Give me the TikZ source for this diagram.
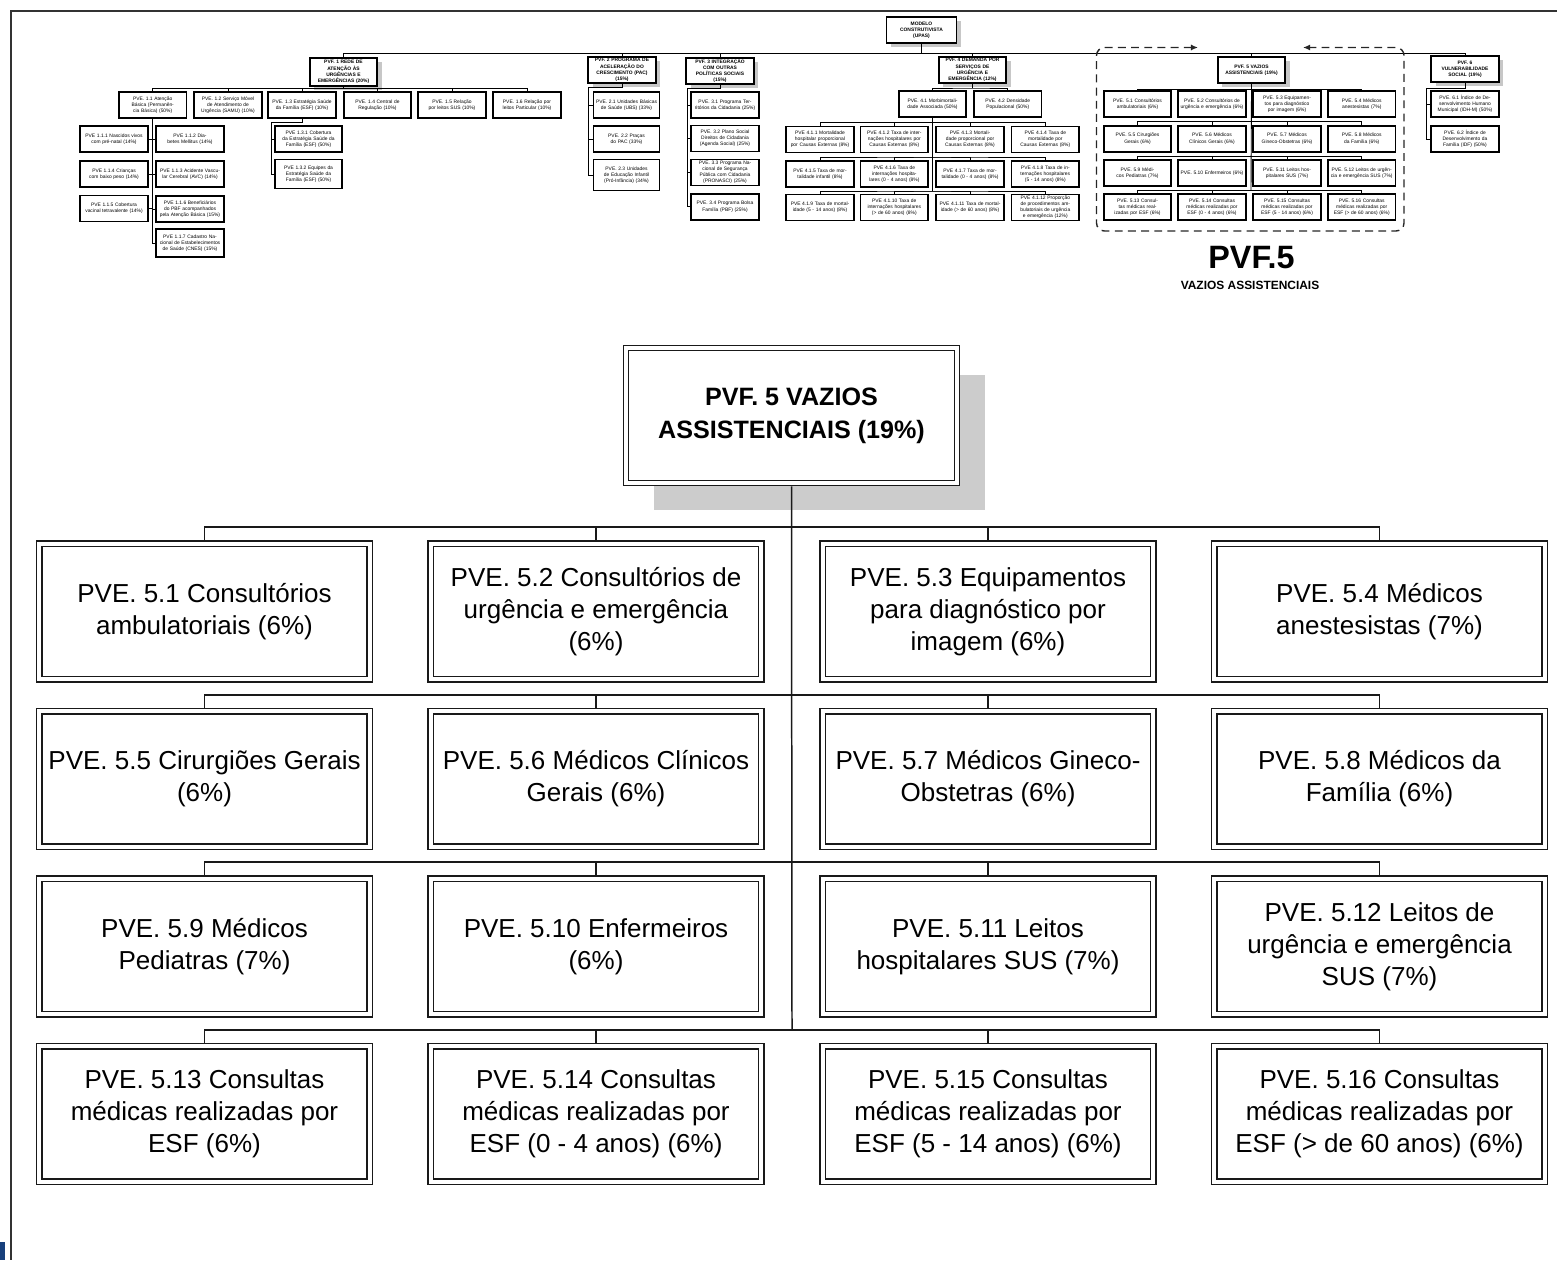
\documentclass[tikz,border=0pt]{standalone}
\usepackage{fontspec}
\setmainfont{Liberation Sans}
\usetikzlibrary{arrows.meta,shadows}
\definecolor{barblue}{RGB}{24,64,124}

\begin{document}
\begin{tikzpicture}[x=0.02cm,y=-0.02cm]
  \tikzset{ big/.style={draw=black!90, line width=0.8pt, double=white, double distance=2.3pt,
      fill=white, inner sep=0pt, minimum width=6.61cm, minimum height=2.71cm,
      align=center, font=\fontsize{14.8}{18.1}\selectfont},
    bigtop/.style={big, font=\bfseries\fontsize{14.3}{18.6}\selectfont,
      minimum width=6.62cm, minimum height=2.7cm,
      drop shadow={shadow xshift=15.9pt, shadow yshift=-15.6pt, fill=black!20, opacity=1}},
    pve/.style={draw, line width=1pt, fill=white, inner sep=0pt,
      minimum width=1.35cm, minimum height=0.52cm,
      text width=1.26cm, align=center, font=\fontsize{2.8}{3.5}\selectfont},
    pvf/.style={pve, font=\bfseries\fontsize{2.8}{3.5}\selectfont,
      drop shadow={shadow xshift=2.5pt, shadow yshift=-2.5pt, fill=black!22, opacity=1}},
    link/.style={line width=0.85pt, draw=black!90, shorten <=1.5pt, shorten >=1.5pt},
    twig/.style={line width=0.5pt},
  }
  \useasboundingbox (0,0) rectangle (1557,1260);

  % page frame
  \draw[line width=1.2pt, black!80] (1557,11) -- (11,11) -- (11,1260);
  \fill[barblue] (0,1242) rectangle (5,1260);

  % small overview tree
  \node[pvf, minimum width=1.4cm, text width=1.36cm] (m) at (921.5,30) {MODELO\\CONSTRUTIVISTA\\(UPAS)};

  \node[pvf, minimum height=0.56cm] (f1) at (343.5,72) {PVF. 1 REDE DE\\ATENÇÃO ÀS\\URGÊNCIAS E\\EMERGÊNCIAS (20\%)};
  \node[pvf] (f2) at (622,70) {PVF. 2 PROGRAMA DE\\ACELERAÇÃO DO\\CRESCIMENTO (PAC)\\(15\%)};
  \node[pvf] (f3) at (720,71) {PVF. 3 INTEGRAÇÃO\\COM OUTRAS\\POLÍTICAS SOCIAIS\\(15\%)};
  \node[pvf] (f4) at (972.5,70) {PVF. 4 DEMANDA POR\\SERVIÇOS DE\\URGÊNCIA E\\EMERGÊNCIA (12\%)};
  \node[pvf] (f5) at (1251.5,70) {PVF. 5 VAZIOS\\ASSISTENCIAIS (19\%)};
  \node[pvf] (f6) at (1465,69) {PVF. 6\\VULNERABILIDADE\\SOCIAL (19\%)};

  \node[pve] (e11) at (152.7,105) {PVE. 1.1 Atenção Básica (Permanência Básica) (50\%)};
  \node[pve] (e12) at (228,105) {PVE. 1.2 Serviço Móvel de Atendimento de Urgência (SAMU) (10\%)};
  \node[pve] (e13) at (302,105) {PVE. 1.3 Estratégia Saúde da Família (ESF) (10\%)};
  \node[pve] (e14) at (377.5,105) {PVE. 1.4 Central de Regulação (10\%)};
  \node[pve] (e15) at (452,105) {PVE. 1.5 Relação por leitos SUS (10\%)};
  \node[pve] (e16) at (527,105) {PVE. 1.6 Relação por leitos Particular (10\%)};

  \node[pve] (e111) at (114,139) {PVE 1.1.1 Nascidos vivos com pré-natal (14\%)};
  \node[pve] (e112) at (190,139) {PVE 1.1.2 Diabetes Mellitus (14\%)};
  \node[pve] (e114) at (114,174) {PVE 1.1.4 Crianças com baixo peso (14\%)};
  \node[pve] (e113) at (190,174) {PVE 1.1.3 Acidente Vascular Cerebral (AVC) (14\%)};
  \node[pve] (e115) at (114,208.5) {PVE 1.1.5 Cobertura vacinal tetravalente (14\%)};
  \node[pve] (e116) at (190,209) {PVE 1.1.6 Beneficiários do PBF acompanhados pela Atenção Básica (15\%)};
  \node[pve, minimum height=0.56cm] (e117) at (190,243) {PVE 1.1.7 Cadastro Nacional de Estabelecimentos de Saúde (CNES) (15\%)};

  \node[pve] (e131) at (308.5,139) {PVE 1.3.1 Cobertura da Estratégia Saúde da Família (ESF) (50\%)};
  \node[pve, minimum height=0.58cm] (e132) at (308.5,174) {PVE 1.3.2 Equipes da Estratégia Saúde da Família (ESF) (50\%)};

  \node[pve, minimum width=1.32cm] (e21) at (626.5,105) {PVE. 2.1 Unidades Básicas de Saúde (UBS) (33\%)};
  \node[pve, minimum width=1.32cm] (e22) at (626.5,139) {PVE. 2.2 Praças do PAC (33\%)};
  \node[pve, minimum width=1.32cm, minimum height=0.62cm] (e23) at (626.5,175) {PVE. 2.3 Unidades de Educação Infantil (Pró-Infância) (34\%)};

  \node[pve] (e31) at (725,105) {PVE. 3.1 Programa Territórios da Cidadania (25\%)};
  \node[pve] (e32) at (725,138.5) {PVE. 3.2 Plano Social Direitos de Cidadania (Agenda Social) (25\%)};
  \node[pve] (e33) at (725,172.5) {PVE. 3.3 Programa Nacional de Segurança Pública com Cidadania (PRONASCI) (25\%)};
  \node[pve] (e34) at (725,206.7) {PVE. 3.4 Programa Bolsa Família (PBF) (25\%)};

  \node[pve] (e41) at (932.5,104) {PVE. 4.1 Morbimortalidade Associada (50\%)};
  \node[pve] (e42) at (1007.7,104) {PVE. 4.2 Densidade Populacional (50\%)};

  \node[pve] (e411) at (820,139.5) {PVE 4.1.1 Mortalidade hospitalar proporcional por Causas Externas (8\%)};
  \node[pve] (e412) at (894.3,139.5) {PVE 4.1.2 Taxa de internações hospitalares por Causas Externas (8\%)};
  \node[pve] (e413) at (970,139.5) {PVE 4.1.3 Mortalidade proporcional por Causas Externas (8\%)};
  \node[pve] (e414) at (1045.3,139.5) {PVE 4.1.4 Taxa de mortalidade por Causas Externas (8\%)};
  \node[pve] (e415) at (820,174) {PVE 4.1.5 Taxa de mortalidade infantil (8\%)};
  \node[pve] (e416) at (894.3,174) {PVE 4.1.6 Taxa de internações hospitalares (0 - 4 anos) (8\%)};
  \node[pve] (e417) at (970,174) {PVE 4.1.7 Taxa de mortalidade (0 - 4 anos) (8\%)};
  \node[pve] (e418) at (1045.3,174) {PVE 4.1.8 Taxa de internações hospitalares (5 - 14 anos) (8\%)};
  \node[pve] (e419) at (820,207.5) {PVE 4.1.9 Taxa de mortalidade (5 - 14 anos) (8\%)};
  \node[pve] (e4110) at (894.3,207.5) {PVE 4.1.10 Taxa de internações hospitalares (> de 60 anos) (8\%)};
  \node[pve] (e4111) at (970,207.5) {PVE 4.1.11 Taxa de mortalidade (> de 60 anos) (8\%)};
  \node[pve] (e4112) at (1045.3,207.5) {PVE 4.1.12 Proporção de procedimentos ambulatoriais de urgência e emergência (12\%)};

  \node[pve] (g1) at (1137.5,104) {PVE. 5.1 Consultórios ambulatoriais (6\%)};
  \node[pve] (g2) at (1212,104) {PVE. 5.2 Consultórios de urgência e emergência (6\%)};
  \node[pve] (g3) at (1287,104) {PVE. 5.3 Equipamentos para diagnóstico por imagem (6\%)};
  \node[pve] (g4) at (1361.7,104) {PVE. 5.4 Médicos anestesistas (7\%)};
  \node[pve] (g5) at (1137.5,138.7) {PVE. 5.5 Cirurgiões Gerais (6\%)};
  \node[pve] (g6) at (1212,138.7) {PVE. 5.6 Médicos Clínicos Gerais (6\%)};
  \node[pve] (g7) at (1287,138.7) {PVE. 5.7 Médicos Gineco-Obstetras (6\%)};
  \node[pve] (g8) at (1361.7,138.7) {PVE. 5.8 Médicos da Família (6\%)};
  \node[pve] (g9) at (1137.5,173.3) {PVE. 5.9 Médicos Pediatras (7\%)};
  \node[pve] (g10) at (1212,173.3) {PVE. 5.10 Enfermeiros (6\%)};
  \node[pve] (g11) at (1287,173.3) {PVE. 5.11 Leitos hospitalares SUS (7\%)};
  \node[pve] (g12) at (1361.7,173.3) {PVE. 5.12 Leitos de urgência e emergência SUS (7\%)};
  \node[pve] (g13) at (1137.5,207.2) {PVE. 5.13 Consultas médicas realizadas por ESF (6\%)};
  \node[pve] (g14) at (1212,207.2) {PVE. 5.14 Consultas médicas realizadas por ESF (0 - 4 anos) (6\%)};
  \node[pve] (g15) at (1287,207.2) {PVE. 5.15 Consultas médicas realizadas por ESF (5 - 14 anos) (6\%)};
  \node[pve] (g16) at (1361.7,207.2) {PVE. 5.16 Consultas médicas realizadas por ESF (> de 60 anos) (6\%)};

  \node[pve] (e61) at (1465,104) {PVE. 6.1 Índice de Desenvolvimento Humano Municipal (IDH-M) (50\%)};
  \node[pve] (e62) at (1465,139) {PVE. 6.2 Índice de Desenvolvimento da Família (IDF) (50\%)};

  % lines of the overview tree
  \coordinate (s0) at (921.5,53);
  \draw[twig] (m.south) -- (s0);
  \draw[twig] (f1.north) |- (s0) -| (f6.north);
  \draw[twig] (f2.north) |- (s0);
  \draw[twig] (f3.north) |- (s0);
  \draw[twig] (f4.north) |- (s0);
  \draw[twig] (f5.north) |- (s0);

  \coordinate (s1) at (343.5,88);
  \draw[twig] (f1.south) -- (s1);
  \draw[twig] (e11.north) |- (s1) -| (e16.north);
  \draw[twig] (e12.north) |- (s1);
  \draw[twig] (e13.north) |- (s1);
  \draw[twig] (e14.north) |- (s1);
  \draw[twig] (e15.north) |- (s1);
  \draw[twig] (e11.south) |- (e117.west);
  \draw[twig] (e111.east) -- (e111.east -| e11.south);
  \draw[twig] (e114.east) -- (e114.east -| e11.south);
  \draw[twig] (e115.east) -- (e115.east -| e11.south);
  \draw[twig] (e112.west) -- (e112.west -| e11.south);
  \draw[twig] (e113.west) -- (e113.west -| e11.south);
  \draw[twig] (e116.west) -- (e116.west -| e11.south);

  \coordinate (s13) at (271.5,122);
  \draw[twig] (e13.south) |- (s13) |- (e132.west);
  \draw[twig] (s13 |- e131.west) -- (e131.west);

  \coordinate (s2) at (588.3,87);
  \draw[twig] (f2.south) |- (s2) |- (e23.west);
  \draw[twig] (s2 |- e21.west) -- (e21.west);
  \draw[twig] (s2 |- e22.west) -- (e22.west);

  \coordinate (s3) at (687.3,88);
  \draw[twig] (f3.south) |- (s3) |- (e34.west);
  \draw[twig] (s3 |- e31.west) -- (e31.west);
  \draw[twig] (s3 |- e32.west) -- (e32.west);
  \draw[twig] (s3 |- e33.west) -- (e33.west);

  \coordinate (s4) at (972.5,88);
  \draw[twig] (f4.south) -- (s4);
  \draw[twig] (e41.north) |- (s4) -| (e42.north);
  \coordinate (s41) at (932.5,122.7);
  \coordinate (s42) at (932.5,157);
  \coordinate (s43) at (932.5,191);
  \draw[twig] (e41.south) -- (s43);
  \draw[twig] (e411.north) |- (s41) -| (e414.north);
  \draw[twig] (e412.north) |- (s41) -| (e413.north);
  \draw[twig] (e415.north) |- (s42) -| (e418.north);
  \draw[twig] (e416.north) |- (s42) -| (e417.north);
  \draw[twig] (e419.north) |- (s43) -| (e4112.north);
  \draw[twig] (e4110.north) |- (s43) -| (e4111.north);

  \coordinate (s51) at (1251,89.3);
  \coordinate (s52) at (1251,121.7);
  \coordinate (s53) at (1251,156.7);
  \coordinate (s54) at (1251,190.7);
  \draw[twig] (f5.south) -- (s54);
  \draw[twig] (g1.north) |- (s51) -| (g4.north);
  \draw[twig] (g2.north) |- (s51) -| (g3.north);
  \draw[twig] (g5.north) |- (s52) -| (g8.north);
  \draw[twig] (g6.north) |- (s52) -| (g7.north);
  \draw[twig] (g9.north) |- (s53) -| (g12.north);
  \draw[twig] (g10.north) |- (s53) -| (g11.north);
  \draw[twig] (g13.north) |- (s54) -| (g16.north);
  \draw[twig] (g14.north) |- (s54) -| (g15.north);

  \coordinate (s6) at (1426,88);
  \draw[twig] (f6.south) |- (s6) |- (e62.west);
  \draw[twig] (s6 |- e61.west) -- (e61.west);

  % dashed frame round PVF 5
  \draw[line width=0.8pt, black!85, dash pattern=on 4.5pt off 3pt, rounded corners=0.16cm,
    {Latex[length=4pt,width=3.5pt]}-{Latex[length=4pt,width=3.5pt]}]
    (1198,47.5) -- (1096.5,47.5) -- (1096.5,231) -- (1404,231) -- (1404,47.5) -- (1303,47.5);
  \node[font=\bfseries\fontsize{18.4}{20}\selectfont] (lbl) at (1251.5,258) {PVF.5};
  \node[font=\bfseries\fontsize{6.8}{8}\selectfont] (sublbl) at (1250,285) {VAZIOS ASSISTENCIAIS};

  % enlarged PVF 5
  \node[bigtop] (root) at (791.5,415.5) {PVF. 5 VAZIOS\\ASSISTENCIAIS (19\%)};

  \node[big] (v1) at (204.5,611.5) {PVE. 5.1 Consultórios\\ambulatoriais (6\%)};
  \node[big] (v2) at (596,611.5) {PVE. 5.2 Consultórios de\\urgência e emergência\\(6\%)};
  \node[big] (v3) at (988,611.5) {PVE. 5.3 Equipamentos\\para diagnóstico por\\imagem (6\%)};
  \node[big] (v4) at (1379.5,611.5) {PVE. 5.4 Médicos\\anestesistas (7\%)};

  \node[big] (v5) at (204.5,779) {PVE. 5.5 Cirurgiões Gerais\\(6\%)};
  \node[big] (v6) at (596,779) {PVE. 5.6 Médicos Clínicos\\Gerais (6\%)};
  \node[big] (v7) at (988,779) {PVE. 5.7 Médicos Gineco-\\Obstetras (6\%)};
  \node[big] (v8) at (1379.5,779) {PVE. 5.8 Médicos da\\Família (6\%)};

  \node[big] (v9) at (204.5,946.5) {PVE. 5.9 Médicos\\Pediatras (7\%)};
  \node[big] (v10) at (596,946.5) {PVE. 5.10 Enfermeiros\\(6\%)};
  \node[big] (v11) at (988,946.5) {PVE. 5.11 Leitos\\hospitalares SUS (7\%)};
  \node[big] (v12) at (1379.5,946.5) {PVE. 5.12 Leitos de\\urgência e emergência\\SUS (7\%)};

  \node[big] (v13) at (204.5,1114) {PVE. 5.13 Consultas\\médicas realizadas por\\ESF (6\%)};
  \node[big] (v14) at (596,1114) {PVE. 5.14 Consultas\\médicas realizadas por\\ESF (0 - 4 anos) (6\%)};
  \node[big] (v15) at (988,1114) {PVE. 5.15 Consultas\\médicas realizadas por\\ESF (5 - 14 anos) (6\%)};
  \node[big] (v16) at (1379.5,1114) {PVE. 5.16 Consultas\\médicas realizadas por\\ESF (> de 60 anos) (6\%)};

  % trunk and one bus per row
  \coordinate (t1) at (792,527);
  \coordinate (t2) at (792,695);
  \coordinate (t3) at (792,862);
  \coordinate (t4) at (792,1030);
  \draw[line width=0.85pt, draw=black!90, shorten <=1.5pt] (root.south) -- (t4);
  \draw[link] (v1.north) |- (t1) -| (v4.north);
  \draw[link] (v2.north) |- (t1) -| (v3.north);
  \draw[link] (v5.north) |- (t2) -| (v8.north);
  \draw[link] (v6.north) |- (t2) -| (v7.north);
  \draw[link] (v9.north) |- (t3) -| (v12.north);
  \draw[link] (v10.north) |- (t3) -| (v11.north);
  \draw[link] (v13.north) |- (t4) -| (v16.north);
  \draw[link] (v14.north) |- (t4) -| (v15.north);
\end{tikzpicture}
\end{document}
